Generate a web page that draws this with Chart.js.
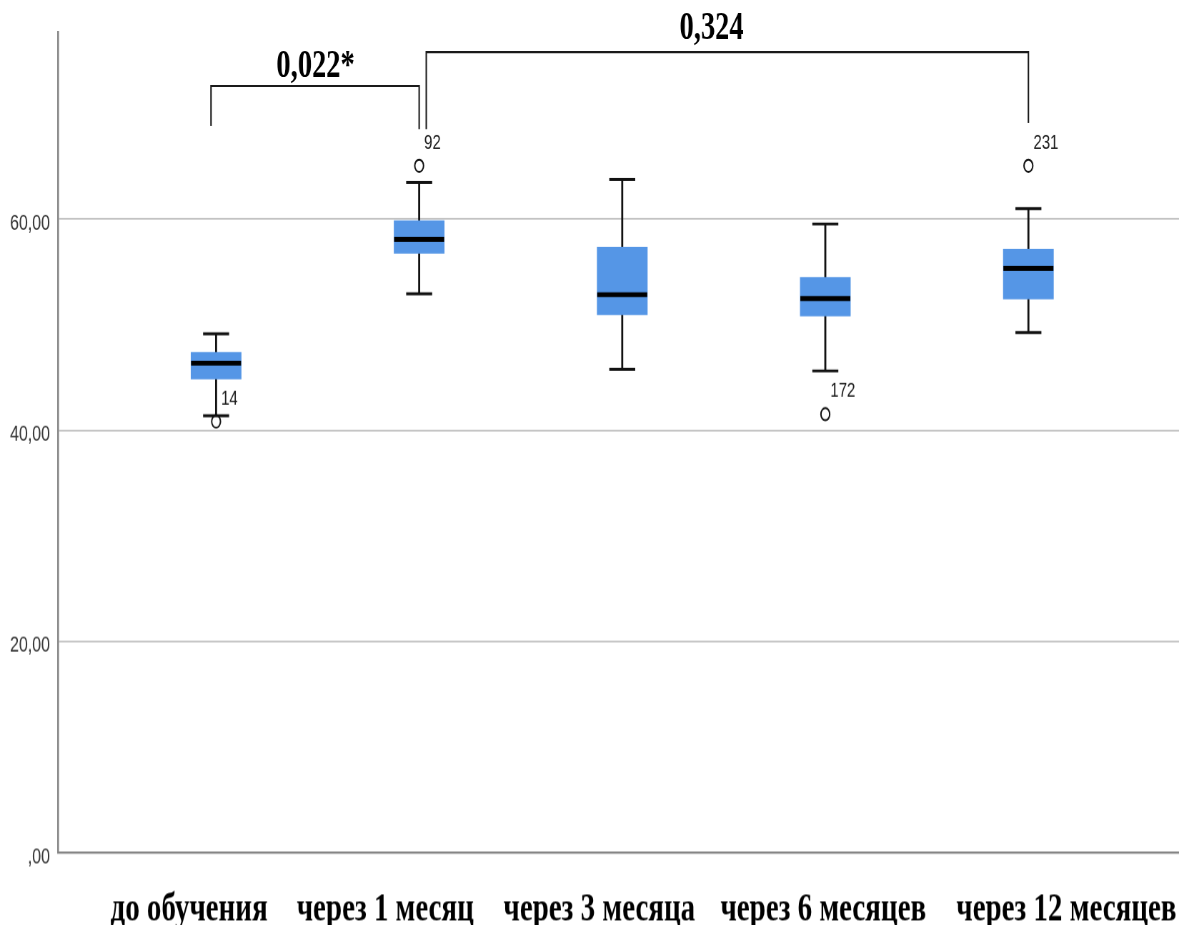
<!DOCTYPE html>
<html>
<head>
<meta charset="utf-8">
<script src="https://cdn.jsdelivr.net/npm/chart.js@4.4.1/dist/chart.umd.min.js"></script>
<style>
  html, body { margin: 0; padding: 0; background: #ffffff; overflow: hidden; }
  /* the whole figure is printed with a tall aspect: everything is stretched vertically */
  #wrap { position: absolute; left: 0; top: 0; width: 1179px; height: 661.43px;
          transform: scaleY(1.4); transform-origin: 0 0; }
</style>
</head>
<body>
<div id="wrap"><canvas id="chart"></canvas></div>
<script>
// Groups along the x axis
const categories = ["до обучения", "через 1 месяц", "через 3 месяца", "через 6 месяцев", "через 12 месяцев"];
// where each group name sits on the x axis (names are set in one evenly spaced row)
const categoryLabelAt = [-0.133, 0.833, 1.887, 2.990, 4.187];

// Five-number summaries of each group
const lowerWhisker = [41.36, 52.90, 45.77, 45.61, 49.24];
const quartile1    = [44.86, 56.75, 50.94, 50.82, 52.43];
const medians      = [46.34, 58.07, 52.83, 52.46, 55.32];
const quartile3    = [47.35, 59.81, 57.31, 54.45, 57.12];
const upperWhisker = [49.12, 63.47, 63.74, 59.52, 60.97];

// Outlying cases: group index, value, case number
const outlierGroup = [0, 1, 3, 4];
const outlierValue = [40.82, 65.04, 41.51, 65.04];
const outlierCase  = ["14", "92", "172", "231"];

// Value axis ticks
const yTickValues = [0, 20, 40, 60];
const yTickLabels = [",00", "20,00", "40,00", "60,00"];

// Pairwise comparisons shown as brackets (p-values)
const pairLabels     = ["0,022*", "0,324"];
const pairFrom       = [-0.025, 1.035];
const pairTo         = [1.0, 4.0];
const pairTop        = [72.6, 75.8];
const pairFromFoot   = [68.8, 68.5];
const pairToFoot     = [68.5, 69.1];
const pairLabelX     = [0.49, 2.44];
const pairLabelY     = [74.4, 78.0];

const BOX_COLOR = '#5596e6';
const INK = '#111111';

const boxParts = {
  id: 'boxParts',
  beforeDatasetsDraw(chart) {
    const { ctx, scales: { x, y } } = chart;
    ctx.save();
    ctx.strokeStyle = INK;
    categories.forEach((c, i) => {
      const px = x.getPixelForValue(i);
      // whisker stem
      ctx.lineWidth = 2;
      ctx.beginPath();
      ctx.moveTo(px, y.getPixelForValue(lowerWhisker[i]));
      ctx.lineTo(px, y.getPixelForValue(upperWhisker[i]));
      ctx.stroke();
      // whisker caps
      ctx.lineWidth = 2.1;
      [lowerWhisker[i], upperWhisker[i]].forEach(v => {
        const py = y.getPixelForValue(v);
        ctx.beginPath();
        ctx.moveTo(px - 13, py);
        ctx.lineTo(px + 13, py);
        ctx.stroke();
      });
    });
    ctx.restore();
  },
  afterDatasetsDraw(chart) {
    const { ctx, scales: { x, y } } = chart;
    const bars = chart.getDatasetMeta(0).data;
    ctx.save();
    // medians
    ctx.strokeStyle = '#000000';
    ctx.lineWidth = 3.5;
    categories.forEach((c, i) => {
      const px = x.getPixelForValue(i);
      const half = bars[i].width / 2;
      const py = y.getPixelForValue(medians[i]);
      ctx.beginPath();
      ctx.moveTo(px - half, py);
      ctx.lineTo(px + half, py);
      ctx.stroke();
    });
    // case numbers of outliers
    ctx.fillStyle = '#1a1a1a';
    ctx.font = '15px "Liberation Sans", Arial, sans-serif';
    ctx.textAlign = 'left';
    ctx.textBaseline = 'middle';
    outlierCase.forEach((id, k) => {
      const px = x.getPixelForValue(outlierGroup[k]);
      const py = y.getPixelForValue(outlierValue[k]);
      ctx.fillText(id, px + 5, py - 16.4);
    });
    // comparison brackets
    ctx.strokeStyle = '#1a1a1a';
    ctx.lineWidth = 1.5;
    pairLabels.forEach((label, k) => {
      const x1 = x.getPixelForValue(pairFrom[k]);
      const x2 = x.getPixelForValue(pairTo[k]);
      const yt = y.getPixelForValue(pairTop[k]);
      ctx.beginPath();
      ctx.moveTo(x1, y.getPixelForValue(pairFromFoot[k]));
      ctx.lineTo(x1, yt);
      ctx.lineTo(x2, yt);
      ctx.lineTo(x2, y.getPixelForValue(pairToFoot[k]));
      ctx.stroke();
      ctx.fillStyle = '#000000';
      ctx.font = 'bold 28.5px "Liberation Serif", "Times New Roman", serif';
      ctx.textAlign = 'center';
      ctx.textBaseline = 'middle';
      ctx.fillText(label, x.getPixelForValue(pairLabelX[k]), y.getPixelForValue(pairLabelY[k]));
    });
    ctx.restore();
  }
};

new Chart(document.getElementById('chart'), {
  type: 'bar',
  data: {
    datasets: [
      {
        type: 'bar',
        data: categories.map((c, i) => ({ x: i, y: [quartile1[i], quartile3[i]] })),
        backgroundColor: BOX_COLOR,
        borderWidth: 0,
        barThickness: 50,
        grouped: false
      },
      {
        type: 'scatter',
        data: outlierValue.map((v, k) => ({ x: outlierGroup[k], y: v })),
        pointStyle: 'circle',
        pointRadius: 4.4,
        pointBorderWidth: 1.4,
        pointBorderColor: INK,
        pointBackgroundColor: 'rgba(255,255,255,0)'
      }
    ]
  },
  options: {
    responsive: true,
    maintainAspectRatio: false,
    animation: false,
    devicePixelRatio: 1.4,
    layout: { autoPadding: false, padding: { top: 22.9, left: 0, right: 0, bottom: 0 } },
    plugins: { legend: { display: false }, tooltip: { enabled: false } },
    scales: {
      x: {
        type: 'linear',
        offset: false,
        min: -0.7783,
        max: 4.7438,
        afterBuildTicks: s => { s.ticks = categoryLabelAt.map(v => ({ value: v })); },
        afterFit: s => { s.height = 52.1; s.paddingLeft = 0; s.paddingRight = 0; },
        ticks: {
          autoSkip: false,
          maxRotation: 0,
          padding: 24,
          color: '#000000',
          font: { family: '"Liberation Serif", "Times New Roman", serif', weight: 'bold', size: 29 },
          callback: v => categories[categoryLabelAt.indexOf(v)]
        },
        grid: { display: false, drawTicks: false, offset: false },
        border: { display: true, color: '#858585', width: 1.6 }
      },
      y: {
        type: 'linear',
        min: 0,
        max: 77.7,
        afterBuildTicks: s => { s.ticks = yTickValues.map(v => ({ value: v })); },
        afterFit: s => { s.width = 58; },
        ticks: {
          padding: 8,
          labelOffset: 3.3,
          color: '#333333',
          font: { family: '"Liberation Sans", Arial, sans-serif', size: 16 },
          callback: v => yTickLabels[yTickValues.indexOf(v)]
        },
        grid: {
          drawTicks: false,
          lineWidth: 1.2,
          color: c => (c.tick && c.tick.value === 0) ? 'rgba(0,0,0,0)' : '#c2c2c2'
        },
        border: { display: true, color: '#858585', width: 1.8 }
      }
    }
  },
  plugins: [boxParts]
});
</script>
</body>
</html>
